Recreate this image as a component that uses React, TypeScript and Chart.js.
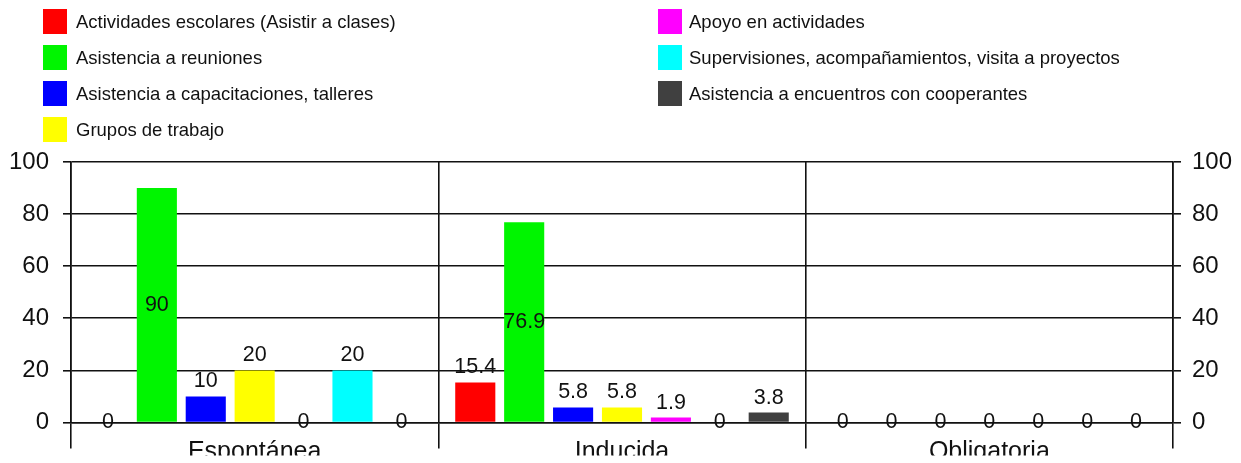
import React, { useEffect, useRef } from "react";
import { Chart, registerables } from "chart.js";

Chart.register(...registerables);

const categories = ["Espontánea", "Inducida", "Obligatoria"];
const seriesNames = [
  "Actividades escolares (Asistir a clases)",
  "Asistencia a reuniones",
  "Asistencia a capacitaciones, talleres",
  "Grupos de trabajo",
  "Apoyo en actividades",
  "Supervisiones, acompañamientos, visita a proyectos",
  "Asistencia a encuentros con cooperantes",
];
const seriesColors = ["#ff0000", "#00f500", "#0000ff", "#ffff00", "#ff00ff", "#00ffff", "#404040"];
const actividadesEscolares = [0, 15.4, 0];
const asistenciaReuniones = [90, 76.9, 0];
const capacitacionesTalleres = [10, 5.8, 0];
const gruposTrabajo = [20, 5.8, 0];
const apoyoActividades = [0, 1.9, 0];
const supervisiones = [20, 0, 0];
const encuentrosCooperantes = [0, 3.8, 0];
const seriesValues = [
  actividadesEscolares,
  asistenciaReuniones,
  capacitacionesTalleres,
  gruposTrabajo,
  apoyoActividades,
  supervisiones,
  encuentrosCooperantes,
];
const yTicks = [0, 20, 40, 60, 80, 100];

const FONT = "'Liberation Sans', Arial, sans-serif";

const valueLabels = {
  id: "valueLabels",
  afterDatasetsDraw(chart: any) {
    const ctx = chart.ctx;
    ctx.save();
    ctx.font = `21.5px ${FONT}`;
    ctx.fillStyle = "#111";
    ctx.textAlign = "center";
    chart.data.datasets.forEach((ds: any, i: number) => {
      const meta = chart.getDatasetMeta(i);
      meta.data.forEach((el: any, j: number) => {
        const v = ds.data[j];
        const txt = String(v);
        if (v === 0) {
          ctx.textBaseline = "middle";
          ctx.fillText(txt, el.x, el.base);
        } else if (v > 50) {
          ctx.textBaseline = "middle";
          ctx.fillText(txt, el.x, (el.y + el.base) / 2);
        } else {
          ctx.textBaseline = "alphabetic";
          ctx.fillText(txt, el.x, el.y - 9);
        }
      });
    });
    ctx.restore();
  },
};

function Legend() {
  const left = [0, 1, 2, 3];
  const right = [4, 5, 6];
  const row = (i: number, top: number, sqLeft: number, txtLeft: number) => (
    <div key={i}>
      <div
        style={{
          position: "absolute",
          left: sqLeft,
          top: top,
          width: 24,
          height: 25,
          background: seriesColors[i],
        }}
      />
      <div
        style={{
          position: "absolute",
          left: txtLeft,
          top: top,
          height: 25,
          lineHeight: "25px",
          fontFamily: FONT,
          fontSize: "18.5px",
          color: "#111",
          whiteSpace: "nowrap",
        }}
      >
        {seriesNames[i]}
      </div>
    </div>
  );
  return (
    <>
      {left.map((i, k) => row(i, 8.5 + k * 36, 43, 76))}
      {right.map((i, k) => row(i, 8.5 + k * 36, 658, 689))}
    </>
  );
}

export default function App() {
  const ref = useRef<HTMLCanvasElement | null>(null);
  useEffect(() => {
    document.body.style.margin = "0";
    if (!ref.current) return;
    const chart = new Chart(ref.current, {
      type: "bar",
      data: {
        labels: categories,
        datasets: seriesValues.map((vals, i) => ({
          label: seriesNames[i],
          data: vals,
          backgroundColor: seriesColors[i],
          borderWidth: 0,
          categoryPercentage: 0.932,
          barPercentage: 0.82,
        })),
      },
      options: {
        animation: false,
        responsive: false,
        maintainAspectRatio: false,
        events: [],
        layout: { padding: { top: 162, left: 9, right: 8, bottom: 14.5 } },
        plugins: { legend: { display: false }, tooltip: { enabled: false } },
        scales: {
          x: {
            grid: {
              offset: true,
              color: "#111",
              lineWidth: 1.6,
              tickLength: 26,
              drawOnChartArea: true,
            },
            border: { color: "#111", width: 1.6 },
            ticks: {
              color: "#111",
              font: { family: FONT, size: 25 },
              padding: -11.5,
              maxRotation: 0,
            },
          },
          y: {
            position: "left",
            min: 0,
            max: 100,
            afterBuildTicks: (scale: any) => {
              scale.ticks = yTicks.map((v) => ({ value: v }));
            },
            afterFit: (scale: any) => {
              scale.width = 62;
            },
            grid: { color: "#111", lineWidth: 1.6, tickLength: 8 },
            border: { color: "#111", width: 1.6 },
            ticks: {
              color: "#111",
              font: { family: FONT, size: 24 },
              padding: 14,
            },
          },
          y2: {
            position: "right",
            min: 0,
            max: 100,
            afterBuildTicks: (scale: any) => {
              scale.ticks = yTicks.map((v) => ({ value: v }));
            },
            afterFit: (scale: any) => {
              scale.width = 60;
            },
            grid: { color: "#111", lineWidth: 1.6, tickLength: 8, drawOnChartArea: false },
            border: { color: "#111", width: 1.6 },
            ticks: {
              color: "#111",
              font: { family: FONT, size: 24 },
              padding: 11,
            },
          },
        },
      },
      plugins: [valueLabels],
    });
    return () => chart.destroy();
  }, []);
  return (
    <div style={{ position: "absolute", left: 0, top: 0, width: 1241, height: 470, background: "#fff" }}>
      <canvas ref={ref} width={1241} height={470} style={{ position: "absolute", left: 0, top: 0 }} />
      <Legend />
    </div>
  );
}
